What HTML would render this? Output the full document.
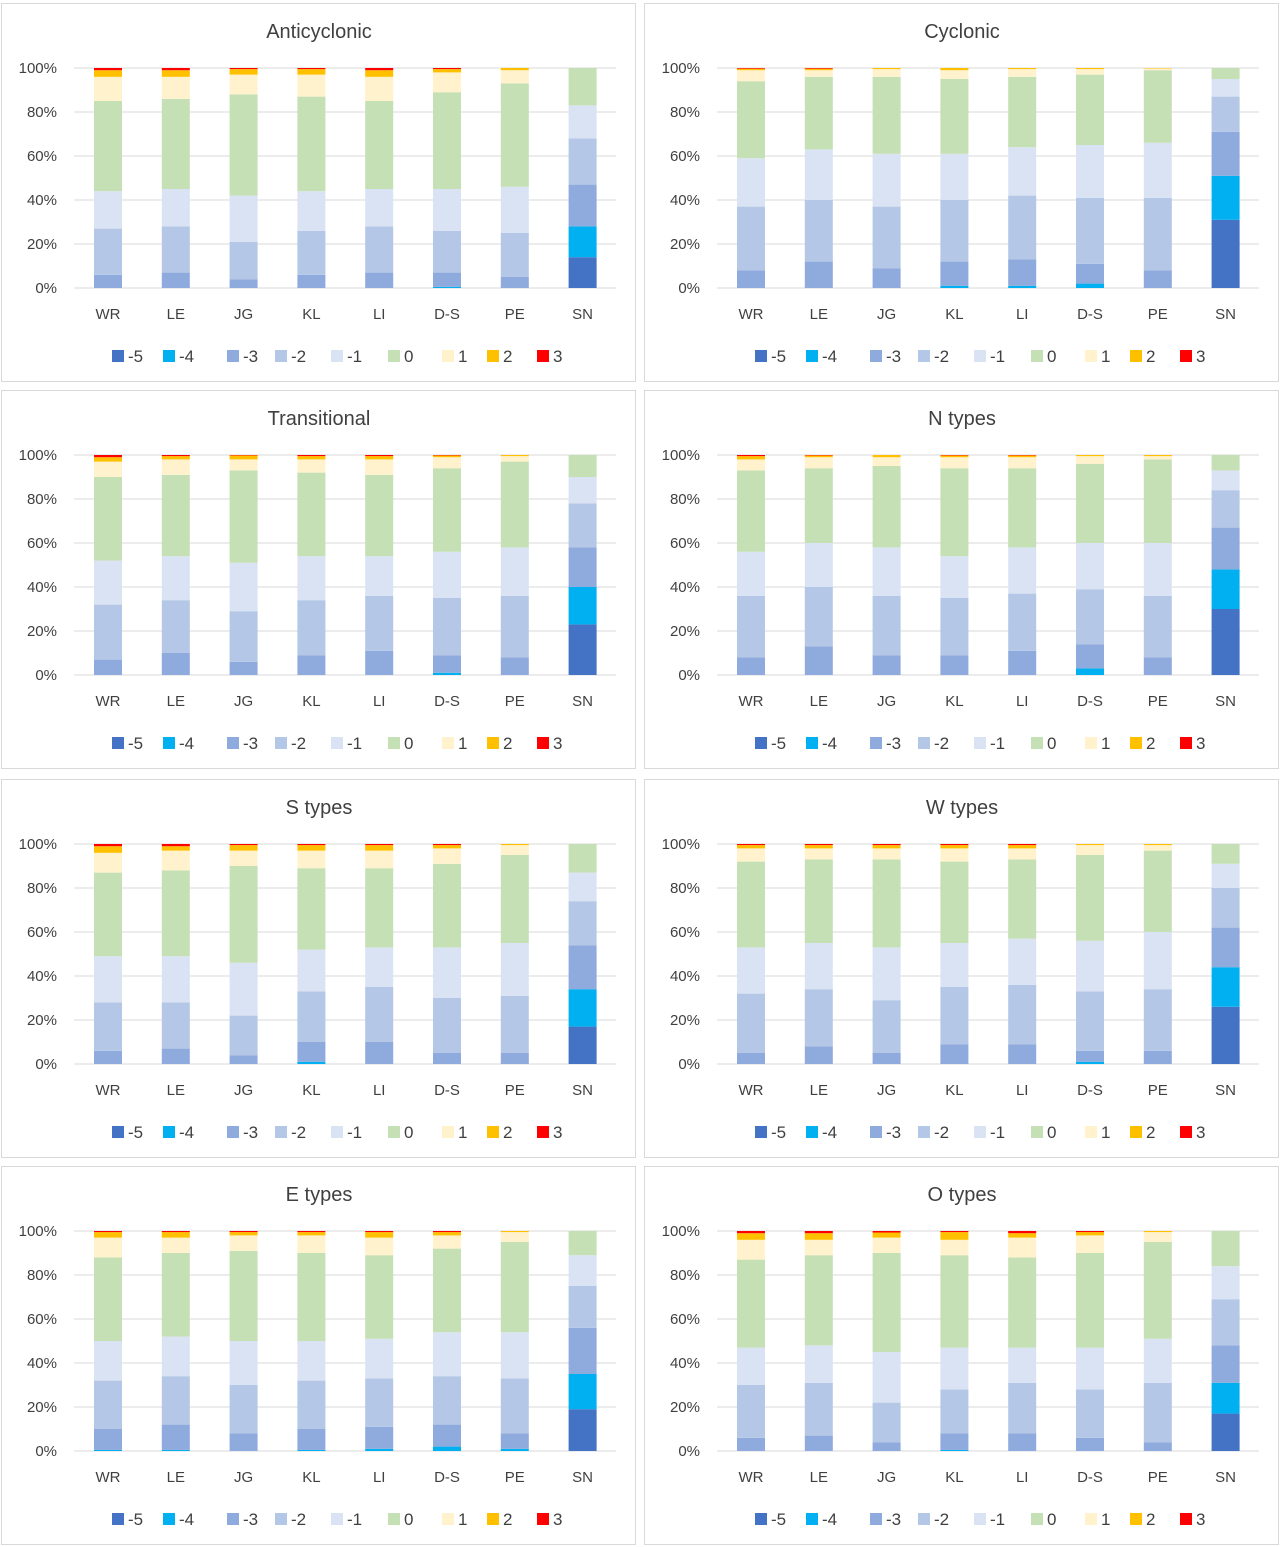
<!DOCTYPE html>
<html><head><meta charset="utf-8">
<style>
html,body{margin:0;padding:0;background:#fff;}
svg{display:block;font-family:"Liberation Sans",Arial,sans-serif;}
</style></head>
<body>
<svg id="chart" width="1280" height="1547" viewBox="0 0 1280 1547" xmlns="http://www.w3.org/2000/svg"></svg>
<script>
const categories = ["WR","LE","JG","KL","LI","D-S","PE","SN"];
const seriesNames = ["-5","-4","-3","-2","-1","0","1","2","3"];
const seriesColors = ["#4472C4","#00B0F0","#8FAADC","#B4C7E7","#DAE3F3","#C5E0B4","#FFF2CC","#FFC000","#FF0000"];
const yTicks = [0,20,40,60,80,100];
const panelTitles = ["Anticyclonic","Cyclonic","Transitional","N types","S types","W types","E types","O types"];
// cumulative tops (%) for series -5..3, per bar
const anticyclonic = [[0,0,6,27,44,85,96,99,100],[0,0,7,28,45,86,96,99,100],[0,0,4,21,42,88,97,99.5,100],[0,0,6,26,44,87,97,99.5,100],[0,0,7,28,45,85,96,99,100],[0,0.5,7,26,45,89,98,99.5,100],[0,0,5,25,46,93,99,100,100],[14,28,47,68,83,100,100,100,100]];
const cyclonic = [[0,0,8,37,59,94,99,99.7,100],[0,0,12,40,63,96,99,99.7,100],[0,0,9,37,61,96,99.5,100,100],[0,1,12,40,61,95,99,100,100],[0,1,13,42,64,96,99.5,100,100],[0,2,11,41,65,97,99.5,100,100],[0,0,8,41,66,99,99.8,100,100],[31,51,71,87,95,100,100,100,100]];
const transitional = [[0,0,7,32,52,90,97,99,100],[0,0,10,34,54,91,98,99.5,100],[0,0,6,29,51,93,98,99.8,100],[0,0,9,34,54,92,98,99.5,100],[0,0,11,36,54,91,98,99.5,100],[0,1,9,35,56,94,99,99.8,100],[0,0,8,36,58,97,99.5,100,100],[23,40,58,78,90,100,100,100,100]];
const nTypes = [[0,0,8,36,56,93,98,99.5,100],[0,0,13,40,60,94,99,99.8,100],[0,0,9,36,58,95,99,100,100],[0,0,9,35,54,94,99,99.8,100],[0,0,11,37,58,94,99,99.8,100],[0,3,14,39,60,96,99.5,100,100],[0,0,8,36,60,98,99.5,100,100],[30,48,67,84,93,100,100,100,100]];
const sTypes = [[0,0,6,28,49,87,96,99,100],[0,0,7,28,49,88,97,99,100],[0,0,4,22,46,90,97,99.5,100],[0,1,10,33,52,89,97,99.5,100],[0,0,10,35,53,89,97,99.5,100],[0,0,5,30,53,91,98,99.5,100],[0,0,5,31,55,95,99.5,100,100],[17,34,54,74,87,100,100,100,100]];
const wTypes = [[0,0,5,32,53,92,98,99.5,100],[0,0,8,34,55,93,98,99.5,100],[0,0,5,29,53,93,98,99.5,100],[0,0,9,35,55,92,98,99.5,100],[0,0,9,36,57,93,98,99.5,100],[0,1,6,33,56,95,99.5,100,100],[0,0,6,34,60,97,99.5,100,100],[26,44,62,80,91,100,100,100,100]];
const eTypes = [[0,0.5,10,32,50,88,97,99.5,100],[0,0.5,12,34,52,90,97,99.5,100],[0,0,8,30,50,91,98,99.5,100],[0,0.5,10,32,50,90,98,99.5,100],[0,1,11,33,51,89,97,99.5,100],[0,2,12,34,54,92,98,99.5,100],[0,1,8,33,54,95,99.5,100,100],[19,35,56,75,89,100,100,100,100]];
const oTypes = [[0,0,6,30,47,87,96,99,100],[0,0,7,31,48,89,96,99,100],[0,0,4,22,45,90,97,99.3,100],[0,0.5,8,28,47,89,96,99.5,100],[0,0,8,31,47,88,97,99,100],[0,0,6,28,47,90,98,99.5,100],[0,0,4,31,51,95,99.5,100,100],[17,31,48,69,84,100,100,100,100]];
const panelData = [anticyclonic,cyclonic,transitional,nTypes,sTypes,wTypes,eTypes,oTypes];

const legendSwatchX = [112,163,227,275,331,388,442,487,537];

const NS="http://www.w3.org/2000/svg";
const svg=document.getElementById('chart');
function mk(tag,attrs,parent){const e=document.createElementNS(NS,tag);for(const k in attrs)e.setAttribute(k,attrs[k]);parent.appendChild(e);return e;}
const rowOff=[0,387,776,1163];
panelData.forEach((data,p)=>{
  const ox=(p%2)*643, oy=rowOff[Math.floor(p/2)];
  const g=mk('g',{transform:`translate(${ox},${oy})`},svg);
  
  
  const bg=mk('rect',{x:1.5,y:3.5,width:634,height:378,fill:'#fff',stroke:'#d9d9d9','stroke-width':1},g);
  
  
  const t=mk('text',{x:319,y:38,'text-anchor':'middle','font-size':20,fill:'#404040'},g);
  t.textContent=panelTitles[p];
  
  
  const y0=288,y1=68;
  const yS=v=>y0-(v/100)*(y0-y1);
  const xS=i=>108+i*67.8;
  yTicks.forEach(v=>{
    const l=mk('line',{x1:74,x2:616,y1:yS(v),y2:yS(v),stroke:'#d9d9d9','stroke-width':1},g);
    
    
    const tx=mk('text',{x:57,y:yS(v)+5,'text-anchor':'end','font-size':15,fill:'#404040'},g);
    tx.textContent=v+'%';
    
    
  });
  data.forEach((cum,i)=>{
    let prev=0;
    cum.forEach((c,s)=>{
      if(c>prev){
        const r=mk('rect',{x:xS(i)-14,y:yS(c),width:28,height:yS(prev)-yS(c),fill:seriesColors[s]},g);
        
        
      }
      prev=Math.max(prev,c);
    });
    const cl=mk('text',{x:xS(i),y:319,'text-anchor':'middle','font-size':15,fill:'#404040'},g);
    cl.textContent=categories[i];
    
    
  });
  seriesNames.forEach((n,s)=>{
    const lx=legendSwatchX[s];
    const sq=mk('rect',{x:lx,y:350,width:12,height:12,fill:seriesColors[s]},g);
    
    
    const lt=mk('text',{x:lx+16,y:362,'font-size':17,fill:'#404040'},g);
    lt.textContent=n;
    
    
  });
});
</script>
</body></html>
